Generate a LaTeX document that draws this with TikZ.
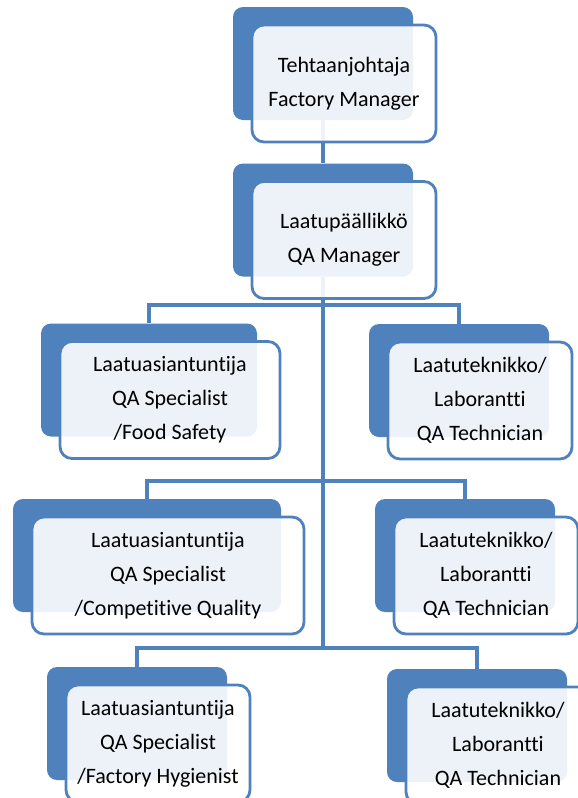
\documentclass[tikz,border=0pt]{standalone}
\usepackage{fontspec}
\setmainfont{Carlito}[Ligatures={NoCommon}]
\usetikzlibrary{backgrounds}
\definecolor{orgblue}{HTML}{4F81BD}

\begin{document}
\begin{tikzpicture}[x=0.5pt, y=-0.5pt,
    rolebg/.style={fill=orgblue, rounded corners=5pt, inner sep=0pt, minimum height=56.5pt},
    rolebox/.style={fill=white, fill opacity=0.9, text opacity=1, draw=orgblue, line width=1.4pt,
        rounded corners=6pt, inner sep=0pt, minimum height=58.5pt, align=center,
        font=\fontsize{11}{17}\selectfont},
    link/.style={draw=orgblue, line width=1.6pt}]
    % 画布大小
    \useasboundingbox (0,0) rectangle (578,798);
    \clip (0,0) rectangle (578,798);

    % 分支点
    \coordinate (j1) at (323,305);
    \coordinate (j2) at (323,481);
    \coordinate (j3) at (323,648);

    % 第一层：工厂经理
    \node[rolebg, minimum width=90pt] (fmb) at (323,63.5) {};
    \node[rolebox, minimum width=92pt] (fm) at ([shift={(21,20)}]fmb) {Tehtaanjohtaja\\Factory Manager};

    % 第二层：质量经理
    \node[rolebg, minimum width=90pt] (qamb) at (323,220) {};
    \node[rolebox, minimum width=92pt] (qam) at ([shift={(21,20)}]qamb) {Laatupäällikkö\\QA Manager};

    % 第三层
    \node[rolebg, minimum width=108pt] (spec1b) at (149,380) {};
    \node[rolebox, minimum width=110pt] (spec1) at ([shift={(21,20)}]spec1b) {Laatuasiantuntija\\QA Specialist\\/Food Safety};
    \node[rolebg, minimum width=90pt] (tech1b) at (459,380.5) {};
    \node[rolebox, minimum width=92pt] (tech1) at ([shift={(21,20)}]tech1b) {Laatuteknikko/\\Laborantti\\QA Technician};

    % 第四层
    \node[rolebg, minimum width=134pt] (spec2b) at (147,555.5) {};
    \node[rolebox, minimum width=136pt] (spec2) at ([shift={(21,20)}]spec2b) {Laatuasiantuntija\\QA Specialist\\/Competitive Quality};
    \node[rolebg, minimum width=90pt] (tech2b) at (465,555.5) {};
    \node[rolebox, minimum width=92pt] (tech2) at ([shift={(21,20)}]tech2b) {Laatuteknikko/\\Laborantti\\QA Technician};

    % 第五层
    \node[rolebg, minimum width=90pt] (spec3b) at (137,723.5) {};
    \node[rolebox, minimum width=92pt] (spec3) at ([shift={(21,20)}]spec3b) {Laatuasiantuntija\\QA Specialist\\/Factory Hygienist};
    \node[rolebg, minimum width=90pt] (tech3b) at (477,725.5) {};
    \node[rolebox, minimum width=92pt] (tech3) at ([shift={(21,20)}]tech3b) {Laatuteknikko/\\Laborantti\\QA Technician};

    % 连线放在底层
    \begin{scope}[on background layer]
        \draw[link] (fmb) -- (qamb);
        \draw[link] (qamb) -- (j3);
        \draw[link] (j1) -| (spec1b);
        \draw[link] (j1) -| (tech1b);
        \draw[link] (j2) -| (spec2b);
        \draw[link] (j2) -| (tech2b);
        \draw[link] (j3) -| (spec3b);
        \draw[link] (j3) -| (tech3b);
    \end{scope}
\end{tikzpicture}
\end{document}
